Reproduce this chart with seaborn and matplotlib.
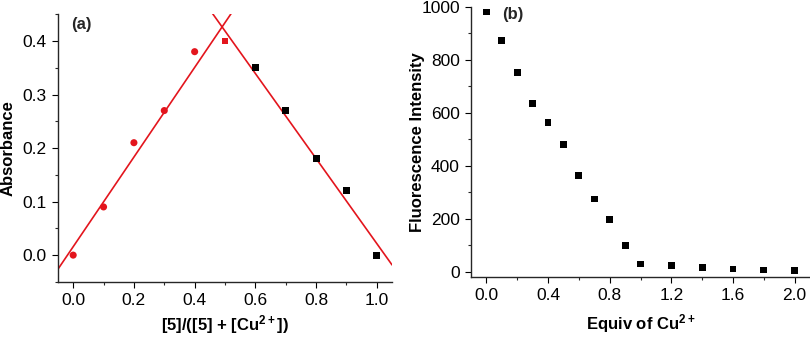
import numpy as np
import pandas as pd
import matplotlib
matplotlib.use('Agg')
import matplotlib.pyplot as plt
import seaborn as sns
from matplotlib.ticker import MultipleLocator

# Job plot data (panel a)
job_x_left = [0.0, 0.1, 0.2, 0.3, 0.4]
job_y_left = [0.0, 0.09, 0.21, 0.27, 0.38]
job_x_peak = [0.5]
job_y_peak = [0.40]
job_x_right = [0.6, 0.7, 0.8, 0.9, 1.0]
job_y_right = [0.35, 0.27, 0.18, 0.12, 0.0]

# Titration data (panel b)
equiv = [0.0, 0.1, 0.2, 0.3, 0.4, 0.5, 0.6, 0.7, 0.8, 0.9, 1.0, 1.2, 1.4, 1.6, 1.8, 2.0]
intensity = [980, 872, 751, 636, 562, 479, 362, 275, 199, 99, 30, 24, 17, 11, 7, 5]

sns.set_style('ticks')
plt.rcParams['font.family'] = ['Liberation Sans', 'DejaVu Sans']
plt.rcParams['mathtext.fontset'] = 'custom'
plt.rcParams['mathtext.bf'] = 'Liberation Sans:bold'
plt.rcParams['mathtext.rm'] = 'Liberation Sans'

RED = '#e3151d'

fig = plt.figure(figsize=(8.1, 3.38), dpi=100)
ax1 = fig.add_axes([0.0716, 0.166, 0.4124, 0.792])
ax2 = fig.add_axes([0.5815, 0.180, 0.4185, 0.800])

# ---- panel a ----
ax1.set_xlim(-0.05, 1.05)
ax1.set_ylim(-0.05, 0.45)

# linear fits: rising branch (0-0.5) and falling branch (0.5-1.0)
fit_left_x = job_x_left + job_x_peak
fit_left_y = job_y_left + job_y_peak
fit_right_x = job_x_peak + job_x_right
fit_right_y = job_y_peak + job_y_right

sns.regplot(x=fit_left_x, y=fit_left_y, ax=ax1, scatter=False, ci=None,
            truncate=False, color=RED, line_kws={'lw': 1.2})
sns.regplot(x=fit_right_x, y=fit_right_y, ax=ax1, scatter=False, ci=None,
            truncate=False, color=RED, line_kws={'lw': 1.2})

sns.scatterplot(x=job_x_left, y=job_y_left, ax=ax1, color=RED, marker='o',
                s=26, edgecolor='none', zorder=3)
sns.scatterplot(x=job_x_peak, y=job_y_peak, ax=ax1, color=RED, marker='s',
                s=24, edgecolor='none', zorder=3)
sns.scatterplot(x=job_x_right, y=job_y_right, ax=ax1, color='black', marker='s',
                s=24, edgecolor='none', zorder=3)

ax1.set_xlim(-0.05, 1.05)
ax1.set_ylim(-0.05, 0.45)
ax1.xaxis.set_major_locator(MultipleLocator(0.2))
ax1.xaxis.set_minor_locator(MultipleLocator(0.1))
ax1.yaxis.set_major_locator(MultipleLocator(0.1))
ax1.yaxis.set_minor_locator(MultipleLocator(0.05))
ax1.xaxis.set_major_formatter(lambda v, p: f'{v:.1f}')
ax1.yaxis.set_major_formatter(lambda v, p: f'{v:.1f}')
ax1.set_xlabel('[5]/([5] + [$\\mathbf{Cu^{2+}}$])', fontsize=12, fontweight='bold')
ax1.set_ylabel('Absorbance', fontsize=12, fontweight='bold')
ax1.xaxis.set_label_coords(0.5, -0.115)
ax1.yaxis.set_label_coords(-0.128, 0.5)
ax1.text(0.04, 0.963, '(a)', transform=ax1.transAxes, fontsize=12,
         fontweight='bold', va='center', ha='left')

# ---- panel b ----
sns.scatterplot(x=equiv, y=intensity, ax=ax2, color='black', marker='s',
                s=24, edgecolor='none', zorder=3)
ax2.set_xlim(-0.1, 2.1)
ax2.set_ylim(-20, 1000)
ax2.xaxis.set_major_locator(MultipleLocator(0.4))
ax2.xaxis.set_minor_locator(MultipleLocator(0.2))
ax2.yaxis.set_major_locator(MultipleLocator(200))
ax2.yaxis.set_minor_locator(MultipleLocator(100))
ax2.xaxis.set_major_formatter(lambda v, p: f'{v:.1f}')
ax2.set_xlabel('Equiv of $\\mathbf{Cu^{2+}}$', fontsize=12, fontweight='bold')
ax2.set_ylabel('Fluorescence Intensity', fontsize=12, fontweight='bold')
ax2.xaxis.set_label_coords(0.5, -0.13)
ax2.yaxis.set_label_coords(-0.136, 0.5)
ax2.text(0.091, 0.97, '(b)', transform=ax2.transAxes, fontsize=12,
         fontweight='bold', va='center', ha='left')

for ax in (ax1, ax2):
    sns.despine(ax=ax)
    ax.spines['left'].set_linewidth(1.0)
    ax.spines['bottom'].set_linewidth(1.0)
    ax.tick_params(which='major', direction='out', length=4, width=0.8,
                   labelsize=12.5, colors='black', pad=4)
    ax.tick_params(which='minor', direction='out', length=2.5, width=0.8)
    ax.xaxis.label.set_color('black')
    ax.yaxis.label.set_color('black')

fig.savefig('out.png', dpi=100)
